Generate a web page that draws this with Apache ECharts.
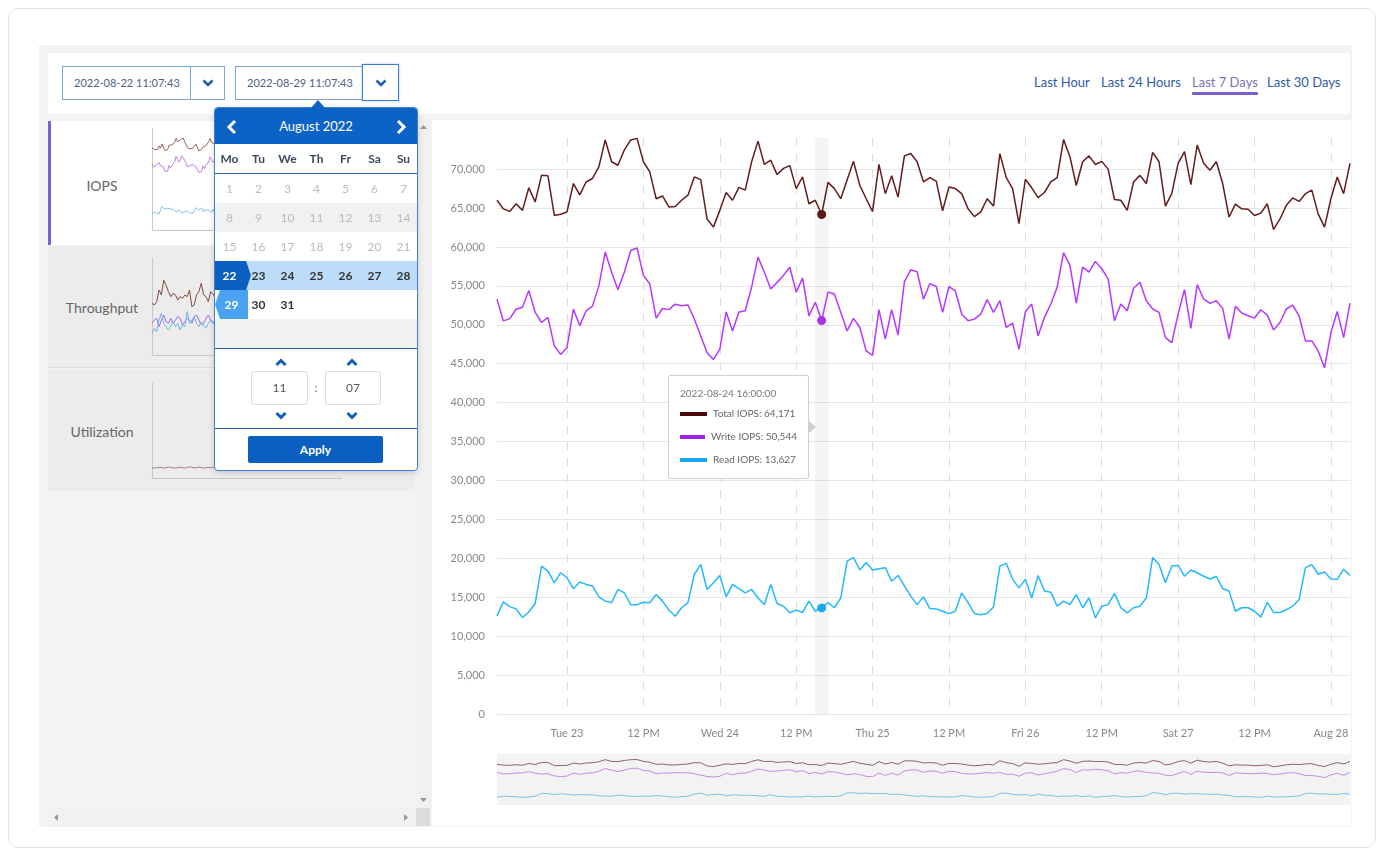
<!DOCTYPE html>
<html><head><meta charset="utf-8">
<script src="https://cdn.jsdelivr.net/npm/echarts@6/dist/echarts.min.js"></script>
<style>
*{box-sizing:border-box}
body{margin:0;width:1384px;height:856px;background:#fff;font-family:Lato,'Open Sans',sans-serif;overflow:hidden;position:relative}
.a{position:absolute}
#card{left:8px;top:8px;width:1368px;height:840px;border:1px solid #e4e4e4;border-radius:10px}
#app{left:39px;top:45px;width:1313px;height:782px;background:#f3f3f3}
#topbar{left:48px;top:53px;width:1302px;height:61px;background:#fff}
.inp{height:34px;border:1px solid #7ea5d8;background:#fff;color:#4d6386;font-size:11px;line-height:32px;padding-left:11px;white-space:nowrap}
.btn{height:34px;border:1px solid #7ea5d8;background:#fff;display:flex;align-items:center;justify-content:center}
.lnk{top:74px;font-size:13px;color:#2e5ba6;white-space:nowrap}
#left{left:48px;top:120px;width:368px;height:688px;background:#f3f3f3}
.item{left:48px;width:367px}
.lbl{left:48px;width:108px;text-align:center;font-size:14px;color:#666}
#vs{left:416px;top:120px;width:14px;height:688px;background:#f1f1f1}
#hs{left:48px;top:808px;width:368px;height:18px;background:#f1f1f1}
#corner{left:416px;top:808px;width:14px;height:18px;background:#dcdcdc}
#main{left:432px;top:120px;width:919px;height:706px;background:#fff}
#chart{left:432px;top:118px;width:919px;height:708px}
#spark{left:150px;top:124px;width:200px;height:360px}
#cal{left:214px;top:107px;width:204px;height:364px;border:1px solid #3f7fcf;border-radius:4px;background:#fff;box-shadow:0 2px 6px rgba(0,0,0,.15);z-index:10}
#notch{left:311px;top:100px;width:0;height:0;border-left:7px solid transparent;border-right:7px solid transparent;border-bottom:8px solid #0b63c5;z-index:11}
#calhead{left:0;top:0;width:202px;height:36px;background:#0b63c5;color:#fff;font-size:13px;text-align:center;line-height:36px;border-radius:3px 3px 0 0}
.wd{top:36px;height:30px;width:29px;text-align:center;line-height:30px;font-size:12px;font-weight:700;color:#3d4a5c}
.row{left:0;width:202px;height:29px}
.day{width:29px;height:29px;text-align:center;line-height:29px;font-size:12px}
.dis{color:#bbb}
.act{color:#333;font-weight:700}
.hl{border-top:1px solid #2a62ad}
.tbox{top:263px;height:34px;border:1px solid #ddd;border-radius:3px;text-align:center;line-height:32px;font-size:12px;color:#555}
.ttip::after{content:"";position:absolute;right:-8px;top:50%;margin-top:-6px;width:0;height:0;border-top:6px solid transparent;border-bottom:6px solid transparent;border-left:7px solid #d0d0d0}
</style></head><body>
<div id="card" class="a"></div>
<div id="app" class="a"></div>
<div id="topbar" class="a"></div>

<div class="a inp" style="left:62px;top:66px;width:129px">2022-08-22 11:07:43</div>
<div class="a btn" style="left:190px;top:66px;width:35px"><svg width="12" height="8"><polyline points="1.5,1.5 6,6 10.5,1.5" fill="none" stroke="#1f5bb0" stroke-width="2.5"/></svg></div>
<div class="a inp" style="left:235px;top:66px;width:128px">2022-08-29 11:07:43</div>
<div class="a btn" style="left:362px;top:64px;width:37px;height:37px;border-color:#3d7fd6;box-shadow:0 0 2px rgba(60,120,210,.5)"><svg width="12" height="8"><polyline points="1.5,1.5 6,6 10.5,1.5" fill="none" stroke="#1f5bb0" stroke-width="2.5"/></svg></div>

<div class="a lnk" style="left:1034px">Last Hour</div>
<div class="a lnk" style="left:1101px">Last 24 Hours</div>
<div class="a lnk" style="left:1192px;color:#7b6fb8">Last 7 Days</div>
<div class="a" style="left:1192px;top:92px;width:66px;height:3px;background:#7b5fd4;border-radius:1px"></div>
<div class="a lnk" style="left:1267px">Last 30 Days</div>

<div id="left" class="a"></div>
<div class="a item" style="top:121px;height:124px;background:#fff"></div>
<div class="a" style="left:48px;top:121px;width:3px;height:124px;background:#7b5fd4"></div>
<div class="a item" style="top:246px;height:122px;background:#ececec;border-bottom:1px solid #dcdcdc"></div>
<div class="a item" style="top:369px;height:122px;background:#ececec"></div>
<div class="a lbl" style="top:177px">IOPS</div>
<div class="a lbl" style="top:299px">Throughput</div>
<div class="a lbl" style="top:423px">Utilization</div>
<div id="vs" class="a">
  <svg class="a" style="left:4px;top:5px" width="7" height="5"><polygon points="0,4 3.5,0 7,4" fill="#999"/></svg>
  <svg class="a" style="left:4px;top:678px" width="7" height="5"><polygon points="0,0 3.5,4 7,0" fill="#999"/></svg>
</div>
<div id="hs" class="a">
  <svg class="a" style="left:6px;top:6px" width="5" height="7"><polygon points="4,0 0,3.5 4,7" fill="#999"/></svg>
  <svg class="a" style="left:356px;top:6px" width="5" height="7"><polygon points="0,0 4,3.5 0,7" fill="#999"/></svg>
</div>
<div id="corner" class="a"></div>
<div id="main" class="a"></div>
<div id="spark" class="a"></div>
<div id="chart" class="a"></div>

<div id="notch" class="a"></div>
<div id="cal" class="a">
  <div id="calhead" class="a">August 2022</div>
  <svg class="a" style="left:11px;top:11px" width="12" height="16"><polyline points="9,2 3,8 9,14" fill="none" stroke="#fff" stroke-width="3"/></svg>
  <svg class="a" style="left:180px;top:11px" width="12" height="16"><polyline points="3,2 9,8 3,14" fill="none" stroke="#fff" stroke-width="3"/></svg>
  <div id="cgrid"></div>
  <div class="a hl" style="left:0;top:65px;width:202px"></div>
  <div class="a hl" style="left:0;top:240px;width:202px"></div>
  <div class="a hl" style="left:0;top:320px;width:202px"></div>
  <svg class="a" style="left:60px;top:250px" width="12" height="9"><polyline points="1.5,7 6,2.5 10.5,7" fill="none" stroke="#0b5fc0" stroke-width="3"/></svg>
  <svg class="a" style="left:131px;top:250px" width="12" height="9"><polyline points="1.5,7 6,2.5 10.5,7" fill="none" stroke="#0b5fc0" stroke-width="3"/></svg>
  <div class="a tbox" style="left:36px;width:57px">11</div>
  <div class="a" style="left:98px;top:263px;width:6px;line-height:34px;font-size:12px;color:#666;text-align:center">:</div>
  <div class="a tbox" style="left:110px;width:56px">07</div>
  <svg class="a" style="left:60px;top:303px" width="12" height="9"><polyline points="1.5,2 6,6.5 10.5,2" fill="none" stroke="#0b5fc0" stroke-width="3"/></svg>
  <svg class="a" style="left:131px;top:303px" width="12" height="9"><polyline points="1.5,2 6,6.5 10.5,2" fill="none" stroke="#0b5fc0" stroke-width="3"/></svg>
  <div class="a" style="left:33px;top:328px;width:135px;height:27px;background:#0b5fc0;border-radius:2px;color:#fff;font-size:12px;font-weight:700;text-align:center;line-height:27px">Apply</div>
</div>

<script>
// ---- data ----
const seriesNames = ['Total IOPS', 'Write IOPS', 'Read IOPS'];
const xTickLabels = ['Tue 23','12 PM','Wed 24','12 PM','Thu 25','12 PM','Fri 26','12 PM','Sat 27','12 PM','Aug 28'];
const startTime = '2022-08-22T13:00:00Z';
const weekdays = ['Mo','Tu','We','Th','Fr','Sa','Su'];
const monthDays = 31;

const totalIops = [66000,64900,64570,65550,64700,67600,65800,69200,69150,64050,64200,64500,
68150,66700,68350,68800,70300,73750,70950,70500,72450,73750,73950,70950,
69650,66200,66550,65150,65200,66000,66650,69000,68650,63600,62550,64700,
67000,66000,67650,67300,70950,73600,70600,71150,69300,70100,70450,67500,
69000,65550,66000,64171,68300,67500,66200,68600,71000,67900,66200,64550,
70600,66850,69150,66400,71700,72000,70950,68350,68900,68450,64650,67700,
67500,66850,64900,63900,64500,66200,65250,72000,68900,67500,63000,68700,
67600,66350,67000,68350,68900,73800,71600,67900,70950,71700,70600,71000,
70000,66100,66000,64700,68350,69200,68150,72150,70950,65250,66850,70750,
72250,68000,73100,70750,69850,70950,68150,63850,65500,64900,64850,64050,
64350,65550,62250,63600,65350,66300,65850,66850,67300,64250,62550,66200,
69000,66850,70750];
const writeIops = [53300,50500,50800,52000,52250,54400,51600,50300,50950,47300,46200,47100,
52000,49900,51800,52400,55000,59350,56750,54500,56750,59550,59870,56350,
55250,50850,52100,51950,52650,52450,52550,50750,48600,46400,45550,46850,
51650,49200,51650,51800,54850,58700,56750,54600,55450,56350,57400,54200,
56000,51150,52900,50544,54200,53960,51600,49220,50820,49660,46640,46080,
51940,48150,51940,48670,55520,57070,56810,53280,55300,54920,51600,54920,
54350,51380,50520,50730,51380,53230,51600,53100,49660,50220,46850,51680,
52670,48580,50950,52670,54830,59270,57630,52800,57420,56770,58150,57200,
55900,50520,52670,51810,54700,55470,53100,52030,51600,48360,47720,51380,
54530,49530,55170,53320,52760,53100,52110,48150,52370,51510,51160,50860,
51940,51250,49350,50300,52030,52540,51160,47930,47930,46640,44480,49010,
51720,48360,52800];
const readIops = [12600,14400,13800,13500,12400,13100,14200,19000,18350,16850,18150,17500,
16100,16950,16650,16450,15050,14500,14300,16000,15550,14050,14050,14350,
14300,15350,14500,13350,12550,13650,14300,17950,19200,16000,16850,17800,
15050,16650,16100,15550,16000,14900,14050,16650,14200,13850,13000,13350,
13050,14500,13200,13627,14300,13650,14900,19650,20100,18500,19450,18500,
18650,18800,17050,17800,16450,15150,14050,15050,13550,13500,13200,12900,
13200,15550,14300,12900,12750,12900,13750,19000,19350,17300,16200,17300,
14900,17800,15800,15650,13850,14500,14050,15350,13650,14900,12350,13850,
14050,15500,13650,13000,13650,13850,14900,20100,19200,16850,19000,19100,
17700,18500,18150,17700,17350,17700,16100,15800,13200,13650,13650,13200,
12450,14350,13050,13050,13400,13850,14700,18800,19200,17950,18250,17350,
17300,18600,17800];

// throughput sparkline (MB/s) and utilization sparkline (%)
const tpTotal = [533,515,550,670,620,770,720,653,601,636,620,567,601,584,618,601,670,498,515,620,653,740,620,601,550,653,630,585,640,610];
const tpWrite = [326,360,378,292,360,412,343,326,378,326,360,395,378,309,343,378,360,326,395,412,360,309,326,378,412,360,326,350,380,340];
const tpRead  = [223,275,240,360,430,326,292,258,299,344,292,326,258,309,292,447,326,360,395,326,292,344,309,275,326,360,344,300,330,310];
const utilization = [10.2,10.8,10.5,11.3,11.0,10.4,10.9,11.6,11.1,10.7,10.3,10.9,11.4,10.8,10.5,11.0,11.8,11.2,10.6,10.9,11.5,11.0,10.4,10.8,11.2,10.7,11.3,11.9,11.1,10.6];

const mainColors = ['#5a1a1a', '#a632ea', '#20a8ec'];
const navColors = ['#8f6262', '#c58ce2', '#7cc3e6'];
const sparkColors = ['#946262', '#c47be6', '#78c4ea'];
const tooltipIndex = 51;

// ---- calendar (HTML widget) ----
(function(){
  const g = document.getElementById('cgrid');
  let h = '';
  weekdays.forEach((w,i)=>{ h += `<div class="a wd" style="left:${i*29}px">${w}</div>`; });
  const rowBg = ['#fff','#f1f1f1','#fff','#bcdcf7','#fff','#f1f1f1'];
  rowBg.forEach((c,r)=>{ h += `<div class="a row" style="top:${66+r*29}px;background:${c}"></div>`; });
  for (let d=1; d<=monthDays; d++){
    const r = Math.floor((d-1)/7), c = (d-1)%7;
    const top = 66 + r*29, left = c*29;
    if (d===22){
      h += `<div class="a" style="left:0;top:${top}px;width:36px;height:29px;background:#0b5fc0;clip-path:polygon(0 0,31px 0,36px 50%,31px 100%,0 100%)"></div>`;
      h += `<div class="a day" style="left:${left}px;top:${top}px;color:#fff;font-weight:700">${d}</div>`;
    } else if (d===29){
      h += `<div class="a" style="left:0;top:${top}px;width:33px;height:29px;background:#4aa3f0;clip-path:polygon(5px 0,100% 0,100% 100%,5px 100%,0 50%)"></div>`;
      h += `<div class="a day" style="left:${left+2}px;top:${top}px;color:#fff;font-weight:700">${d}</div>`;
    } else {
      h += `<div class="a day ${d<22?'dis':'act'}" style="left:${left}px;top:${top}px">${d}</div>`;
    }
  }
  g.innerHTML = h;
})();

// ---- main chart ----
const t0 = Date.parse(startTime);
const categories = totalIops.map((_, i) => new Date(t0 + i*3600e3).toISOString().slice(0,19).replace('T',' '));
const isTick = (i) => i >= 11 && (i - 11) % 12 === 0;
const splitColors = [];
for (let k = 0; k < 15; k++) splitColors.push('#e6e6e6');
splitColors.push('rgba(0,0,0,0)');

const chart = echarts.init(document.getElementById('chart'), null, {renderer:'canvas'});
const values = [totalIops, writeIops, readIops];
const mainSeries = values.map((d, k) => ({
  name: seriesNames[k], type:'line', xAxisIndex:0, yAxisIndex:0, data:d,
  showSymbol:false, symbol:'circle', symbolSize:9,
  lineStyle:{width:1.5, color:mainColors[k]}, itemStyle:{color:mainColors[k]},
  emphasis:{scale:false, lineStyle:{width:1.5}}, z:3
}));
const navSeries = values.map((d, k) => ({
  type:'line', xAxisIndex:1, yAxisIndex:1, data:d, showSymbol:false, silent:true,
  lineStyle:{width:1, color:navColors[k]}, tooltip:{show:false}, emphasis:{disabled:true}
}));

chart.setOption({
  animation:false,
  grid:[
    {left:65, top:20, width:853, height:576, outerBoundsMode:'none'},
    {left:65, top:636, width:853, height:51, show:true, backgroundColor:'#f3f3f3', borderWidth:0, outerBoundsMode:'none'}
  ],
  xAxis:[
    {gridIndex:0, type:'category', data:categories, boundaryGap:false,
     axisLine:{show:false}, axisTick:{show:false},
     axisLabel:{interval:(i)=>isTick(i), formatter:(v,i)=>xTickLabels[(i-11)/12] || '', color:'#888', fontSize:11, margin:14, fontFamily:'Lato'},
     splitLine:{show:true, interval:(i)=>isTick(i), lineStyle:{type:[8,8], color:'#dedede', width:1}}},
    {gridIndex:1, type:'category', data:categories, boundaryGap:false, show:false, axisPointer:{show:false}}
  ],
  yAxis:[
    {gridIndex:0, type:'value', min:0, max:74000, interval:5000,
     axisLine:{show:false}, axisTick:{show:false},
     axisLabel:{color:'#888', fontSize:11, margin:12, fontFamily:'Lato', showMaxLabel:false,
       formatter:(v)=> (v % 5000 === 0 ? v.toLocaleString('en-US') : '')},
     splitLine:{show:true, showMaxLine:false, lineStyle:{color:splitColors, width:1}}},
    {gridIndex:1, type:'value', min:0, max:83000, show:false, splitLine:{show:false}}
  ],
  tooltip:{
    trigger:'axis', triggerOn:'none', alwaysShowContent:true, transitionDuration:0,
    className:'ttip',
    backgroundColor:'#fff', borderColor:'#cfcfcf', borderWidth:1, borderRadius:2,
    padding:[10,11,6,11],
    extraCssText:'box-shadow:none;width:141px;height:104px;',
    axisPointer:{type:'line', lineStyle:{color:'rgba(0,0,0,0.04)', width:14, type:'solid'}, z:1},
    position:()=>[236, 257],
    formatter:(params)=>{
      const ps = params.filter(p => p.seriesIndex < 3);
      let s = `<div style="font-family:Lato;color:#777;font-size:10px;line-height:14px;margin-bottom:2px">${ps[0].axisValue}</div>`;
      ps.forEach(p => {
        s += `<div style="display:flex;align-items:center;height:23px;font-family:Lato"><span style="display:inline-block;width:27px;height:4px;background:${['#4a0a0a','#a020f0','#1aa6ee'][p.seriesIndex]};margin-right:6px"></span><span style="font-size:10px;color:#666">${p.seriesName}: ${p.value.toLocaleString('en-US')}</span></div>`;
      });
      return s;
    }
  },
  series: mainSeries.concat(navSeries)
});
chart.dispatchAction({type:'showTip', seriesIndex:0, dataIndex:tooltipIndex});

// ---- left sparklines ----
const spark = echarts.init(document.getElementById('spark'));
const tpCats = []; for (let i = 0; i < 82; i++) tpCats.push(i);
const axLine = {show:true, lineStyle:{color:'#c8c8c8', width:1}};
spark.setOption({
  animation:false,
  grid:[
    {left:2, top:4, width:190, height:102, outerBoundsMode:'none'},
    {left:2, top:134, width:190, height:97, outerBoundsMode:'none'},
    {left:2, top:259, width:190, height:95, outerBoundsMode:'none'}
  ],
  xAxis:[0,1,2].map(g => ({gridIndex:g, type:'category', boundaryGap:false, data: g===0 ? categories : tpCats,
    axisLine:axLine, axisTick:{show:false}, axisLabel:{show:false}, splitLine:{show:false}})),
  yAxis:[82000, 1000, 100].map((m, g) => ({gridIndex:g, type:'value', min:0, max:m,
    axisLine:axLine, axisTick:{show:false}, axisLabel:{show:false}, splitLine:{show:false}})),
  series:[
    ...values.map((d,k)=>({type:'line', xAxisIndex:0, yAxisIndex:0, data:d, showSymbol:false, silent:true, lineStyle:{width:1, color:sparkColors[k]}})),
    ...[tpTotal, tpWrite, tpRead].map((d,k)=>({type:'line', xAxisIndex:1, yAxisIndex:1, data:d, showSymbol:false, silent:true, lineStyle:{width:1, color:['#7e4a40','#a366e0','#6ab8e4'][k]}})),
    {type:'line', xAxisIndex:2, yAxisIndex:2, data:utilization, showSymbol:false, silent:true, lineStyle:{width:1, color:'#a07a8a'}}
  ]
});
</script>
</body></html>
